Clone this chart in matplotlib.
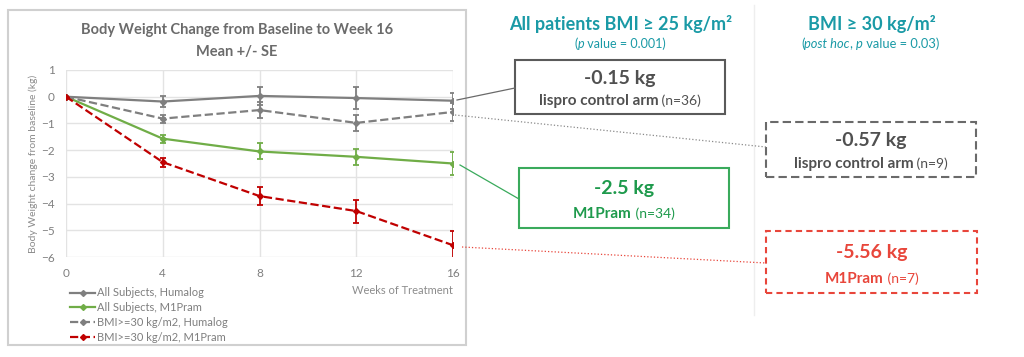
import matplotlib.pyplot as plt
from matplotlib.patches import Rectangle
from matplotlib.lines import Line2D

plt.rcParams['font.family'] = ['Lato', 'DejaVu Sans']

weeks = [0, 4, 8, 12, 16]
all_humalog = [0, -0.18, 0.03, -0.05, -0.15]
all_humalog_se = [0, 0.2, 0.33, 0.4, 0.3]
all_m1pram = [0, -1.57, -2.05, -2.25, -2.5]
all_m1pram_se = [0, 0.15, 0.3, 0.3, 0.42]
bmi_humalog = [0, -0.82, -0.5, -0.98, -0.57]
bmi_humalog_se = [0, 0.15, 0.3, 0.3, 0.35]
bmi_m1pram = [0, -2.45, -3.72, -4.28, -5.56]
bmi_m1pram_se = [0, 0.17, 0.33, 0.43, 0.52]

series_labels = ["All Subjects, Humalog", "All Subjects, M1Pram",
                 "BMI>=30 kg/m2, Humalog", "BMI>=30 kg/m2, M1Pram"]

W, H = 1024, 357
fig = plt.figure(figsize=(W / 100, H / 100), dpi=100)


def fx(px):
    return px / W


def fy(py):
    return 1 - py / H


# chart panel border
fig.patches.append(Rectangle((fx(8), fy(345)), fx(458), 335 / H, transform=fig.transFigure,
                             fill=False, edgecolor='#d0d0d0', linewidth=1.5))

ax = fig.add_axes([fx(66), fy(257), fx(453 - 66), (257 - 70) / H])

gray = '#7f7f7f'
green = '#70ad47'
red = '#c00000'
specs = [
    (all_humalog, all_humalog_se, gray, '-'),
    (all_m1pram, all_m1pram_se, green, '-'),
    (bmi_humalog, bmi_humalog_se, gray, '--'),
    (bmi_m1pram, bmi_m1pram_se, red, '--'),
]
handles = []
for (vals, se, col, ls), lab in zip(specs, series_labels):
    ax.errorbar(weeks, vals, yerr=se, color=col, linestyle=ls, linewidth=1.6,
                marker='D', markersize=3, capsize=2, elinewidth=1.3, capthick=1.3,
                zorder=3)
    handles.append(Line2D([], [], color=col, linestyle=ls, linewidth=1.6, marker='D',
                          markersize=3, label=lab))

ax.set_xlim(0, 16)
ax.set_ylim(-6, 1)
ax.set_xticks(weeks)
ax.set_yticks(range(-6, 2))
ax.grid(True, color='#e3e3e3', linewidth=1)
ax.set_axisbelow(True)
for s in ax.spines.values():
    s.set_visible(False)
ax.tick_params(length=0, labelsize=8.5, colors='#7f7f7f', pad=8)
ax.set_ylabel("Body Weight change from baseline (kg)", fontsize=7.5, color='#8c8c8c', labelpad=2)

fig.text(fx(237), fy(30), "Body Weight Change from Baseline to Week 16", ha='center', va='center',
         fontsize=10.5, fontweight='bold', color='#6b6b6b')
fig.text(fx(237), fy(52), "Mean +/- SE", ha='center', va='center',
         fontsize=10.5, fontweight='bold', color='#6b6b6b')
fig.text(fx(453), fy(291), "Weeks of Treatment", ha='right', va='center', fontsize=8, color='#8c8c8c')

fig.legend(handles=handles, loc='upper left', bbox_to_anchor=(fx(66), fy(283)),
           frameon=False, fontsize=8, labelcolor='#7f7f7f', handlelength=2.2,
           handletextpad=0.2, labelspacing=0.35, borderaxespad=0)

# right panel
teal = '#1a9aa6'
dark = '#505050'
box_green = '#1e9a4c'
box_red = '#e8463b'

renderer = fig.canvas.get_renderer()


def rich_text(xc, yc, pieces):
    """pieces: list of (text, size, weight, style, color); centred at xc, baseline yc (pixels)."""
    objs = []
    widths = []
    for s, size, weight, style, col in pieces:
        t = fig.text(0, fy(yc), s, fontsize=size, fontweight=weight, fontstyle=style,
                     color=col, ha='left', va='baseline')
        widths.append(t.get_window_extent(renderer).width)
        objs.append(t)
    total = sum(widths)
    x = xc - total / 2
    for t, w in zip(objs, widths):
        t.set_x(fx(x))
        x += w


fig.text(fx(621), fy(24), "All patients BMI ≥ 25 kg/m²", ha='center', va='center',
         fontsize=13, fontweight='bold', color=teal)
rich_text(620, 48, [("(", 9, 'normal', 'normal', teal), ("p", 9, 'normal', 'italic', teal),
                    (" value = 0.001)", 9, 'normal', 'normal', teal)])
fig.text(fx(872), fy(24), "BMI ≥ 30 kg/m²", ha='center', va='center',
         fontsize=13, fontweight='bold', color=teal)
rich_text(870, 48, [("(", 9.3, 'normal', 'normal', teal), ("post hoc", 9.3, 'normal', 'italic', teal),
                    (", ", 9.3, 'normal', 'normal', teal), ("p", 9.3, 'normal', 'italic', teal),
                    (" value = 0.03)", 9.3, 'normal', 'normal', teal)])

# separator
fig.lines.append(Line2D([fx(754), fx(754)], [fy(5), fy(315)], transform=fig.transFigure,
                        color='#eeeeee', linewidth=1))

boxes = [
    # x0, y0, x1, y1, edge colour, line style, value, label, n, text colour
    (515, 60, 725, 114, '#5a5a5a', '-', "-0.15 kg", "lispro control arm", "(n=36)", dark),
    (766, 122, 976, 177, '#6a6a6a', (0, (4, 2)), "-0.57 kg", "lispro control arm", "(n=9)", dark),
    (519, 168, 729, 228, '#3aaa5c', '-', "-2.5 kg", "M1Pram", "(n=34)", box_green),
    (766, 231, 977, 293, box_red, (0, (3, 2)), "-5.56 kg", "M1Pram", "(n=7)", box_red),
]
for x0, y0, x1, y1, ec, ls, val, lab, n, tc in boxes:
    fig.patches.append(Rectangle((fx(x0), fy(y1)), fx(x1 - x0), (y1 - y0) / H,
                                 transform=fig.transFigure, fill=False, edgecolor=ec,
                                 linewidth=1.5, linestyle=ls))
    xc = (x0 + x1) / 2
    h = y1 - y0
    fig.text(fx(xc), fy(y0 + h * 0.34), val, ha='center', va='center', fontsize=14,
             fontweight='bold', color=tc)
    rich_text(xc, y0 + h * 0.84, [(lab, 11, 'bold', 'normal', tc), (" " + n, 10, 'normal', 'normal', tc)])

# connector lines
connectors = [
    ((457, 100), (515, 88), '#6a6a6a', '-'),
    ((455, 115), (766, 147), '#8a8a8a', ':'),
    ((460, 165), (519, 199), '#3aaa5c', '-'),
    ((462, 247), (766, 263), box_red, ':'),
]
for (xa, ya), (xb, yb), col, ls in connectors:
    fig.lines.append(Line2D([fx(xa), fx(xb)], [fy(ya), fy(yb)], transform=fig.transFigure,
                            color=col, linewidth=0.9, linestyle=ls))

fig.savefig("out.png", dpi=100)
